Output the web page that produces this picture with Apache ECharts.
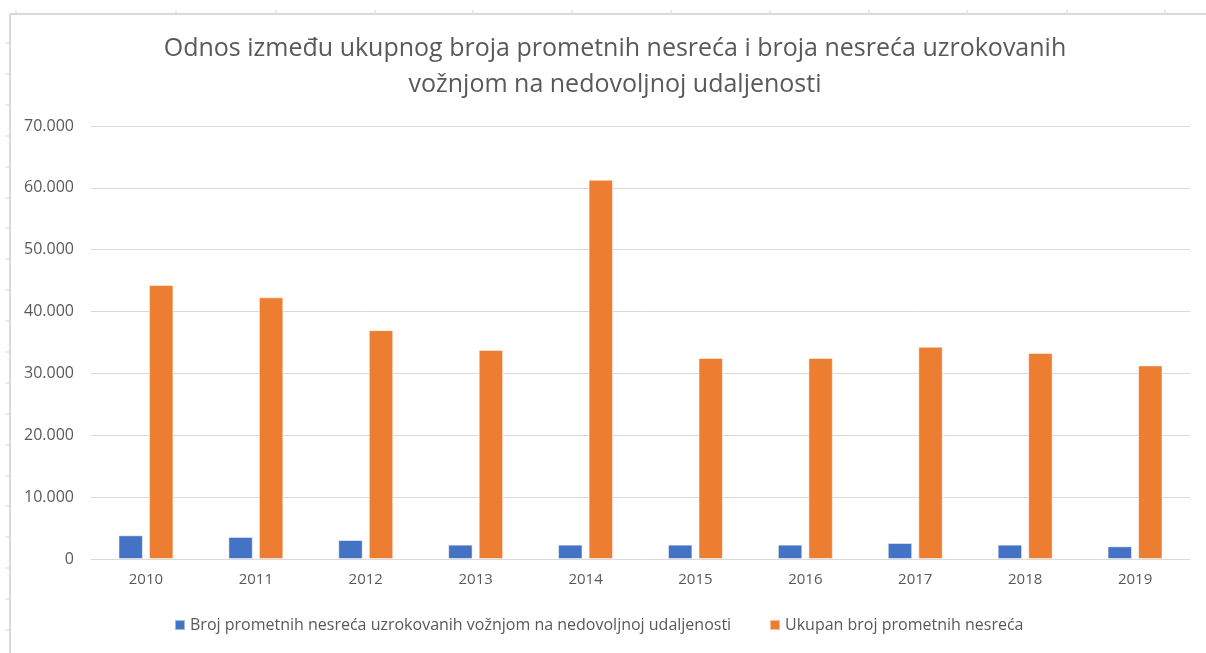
<!DOCTYPE html>
<html>
<head>
<meta charset="utf-8">
<script src="https://cdn.jsdelivr.net/npm/echarts@6/dist/echarts.min.js"></script>
<style>
  html, body { margin: 0; padding: 0; background: #fff; }
  #chart { width: 1206px; height: 653px; }
</style>
</head>
<body>
<div id="chart"></div>
<script>
var years = ['2010', '2011', '2012', '2013', '2014', '2015', '2016', '2017', '2018', '2019'];
var nedovoljnaUdaljenost = [3830, 3560, 3070, 2320, 2320, 2320, 2320, 2590, 2320, 2050];
var ukupno = [44300, 42300, 37000, 33800, 61300, 32500, 32500, 34300, 33300, 31300];
var seriesNames = [
    'Broj prometnih nesreća uzrokovanih vožnjom na nedovoljnoj udaljenosti',
    'Ukupan broj prometnih nesreća'
];

var font = '"Open Sans", "Noto Sans", sans-serif';

// sheet grid behind the chart (decoration only)
var sheet = [];
sheet.push({ type: 'line', shape: { x1: 10, y1: 14, x2: 1206, y2: 14 }, style: { stroke: '#d9d9d9', lineWidth: 2 } });
sheet.push({ type: 'line', shape: { x1: 10, y1: 14, x2: 10, y2: 653 }, style: { stroke: '#d9d9d9', lineWidth: 2 } });
var colX = [16, 176, 276, 375, 473, 572, 671, 770, 869, 967, 1067, 1165];
colX.forEach(function (x) {
    sheet.push({ type: 'line', shape: { x1: x, y1: 10, x2: x, y2: 14 }, style: { stroke: '#d9d9d9', lineWidth: 1 } });
});
for (var y = 43; y < 653; y += 30.9) {
    sheet.push({ type: 'line', shape: { x1: 5, y1: Math.round(y), x2: 10, y2: Math.round(y) }, style: { stroke: '#d9d9d9', lineWidth: 1 } });
}

var myChart = echarts.init(document.getElementById('chart'));
var legendText = { color: '#595959', fontFamily: font, fontSize: 16 };
var option = {
    backgroundColor: '#fff',
    animation: false,
    graphic: sheet,
    title: {
        text: 'Odnos između ukupnog broja prometnih nesreća i broja nesreća uzrokovanih\nvožnjom na nedovoljnoj udaljenosti',
        left: 610,
        top: 26,
        textAlign: 'center',
        textStyle: {
            color: '#595959',
            fontFamily: font,
            fontWeight: 'normal',
            fontSize: 25,
            lineHeight: 36
        }
    },
    legend: [{
        data: [seriesNames[0]],
        left: 169,
        top: 612,
        itemWidth: 10,
        itemHeight: 10,
        icon: 'rect',
        textStyle: legendText
    }, {
        data: [seriesNames[1]],
        left: 764,
        top: 612,
        itemWidth: 10,
        itemHeight: 10,
        icon: 'rect',
        textStyle: legendText
    }],
    grid: {
        left: 91,
        right: 16,
        top: 126,
        bottom: 94,
        containLabel: false
    },
    xAxis: {
        type: 'category',
        data: years,
        axisLine: { lineStyle: { color: '#d9d9d9', width: 1 } },
        axisTick: { show: false },
        axisLabel: { color: '#595959', fontFamily: font, fontSize: 15, margin: 13 }
    },
    yAxis: {
        type: 'value',
        min: 0,
        max: 70000,
        interval: 10000,
        axisLine: { show: false },
        axisTick: { show: false },
        splitLine: { lineStyle: { color: '#d9d9d9', width: 1 } },
        axisLabel: {
            color: '#595959',
            fontFamily: font,
            fontSize: 16,
            margin: 17,
            formatter: function (v) {
                return v === 0 ? '0' : (v / 1000) + '.000';
            }
        }
    },
    series: [{
        name: seriesNames[0],
        type: 'bar',
        data: nedovoljnaUdaljenost,
        barGap: '25%',
        barCategoryGap: '50%',
        itemStyle: { color: '#4472C4', borderColor: 'rgba(255,255,255,0.5)', borderWidth: 1 }
    }, {
        name: seriesNames[1],
        type: 'bar',
        data: ukupno,
        barGap: '25%',
        barCategoryGap: '50%',
        itemStyle: { color: '#ED7D31', borderColor: 'rgba(255,255,255,0.5)', borderWidth: 1 }
    }]
};
myChart.setOption(option);
</script>
</body>
</html>
